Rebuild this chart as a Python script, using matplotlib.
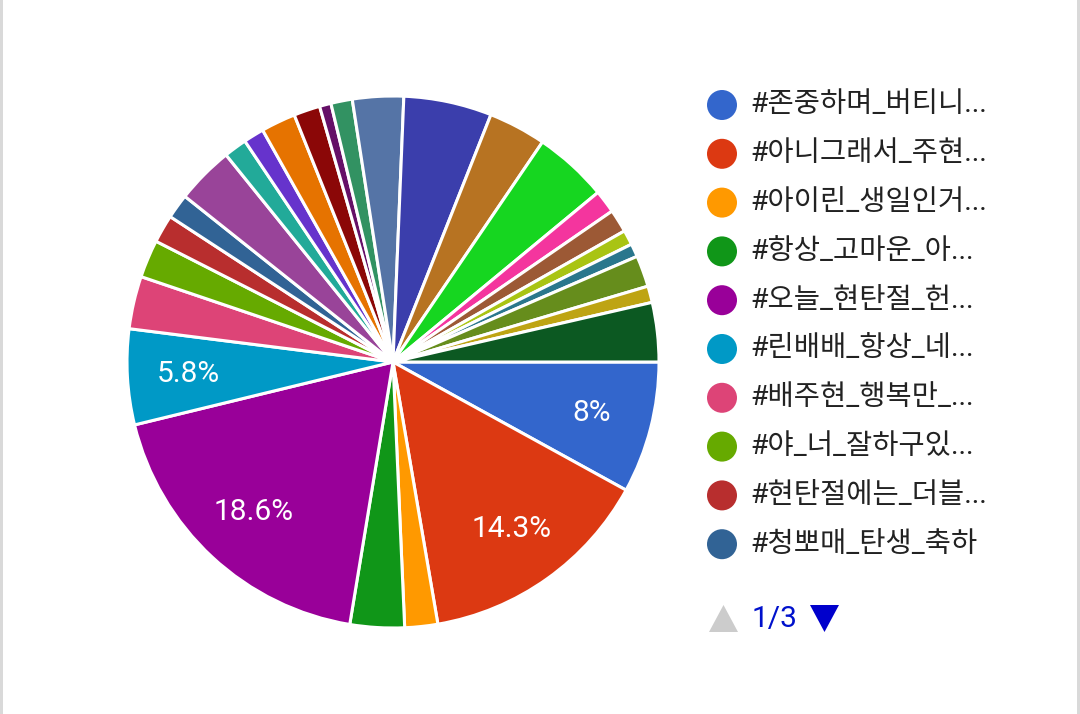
import math
import matplotlib
matplotlib.use("Agg")
import matplotlib.pyplot as plt
from matplotlib.patches import Circle, Polygon

plt.rcParams['font.family'] = ['Roboto', 'Noto Sans CJK KR', 'DejaVu Sans']

# slice shares in percent, clockwise from 3 o'clock
values = [8.0, 14.3, 2.0, 3.3, 18.6, 5.8, 3.2, 2.3, 1.7, 1.5,
          3.5, 1.4, 1.25, 2.1, 1.6, 0.7, 1.3, 3.1, 5.35, 3.5,
          4.5, 1.4, 1.4, 0.9, 0.8, 1.9, 1.0, 3.6]
colors = ['#3366cc', '#dc3912', '#ff9900', '#109618', '#990099', '#0099c6',
          '#dd4477', '#66aa00', '#b82e2e', '#316395', '#994499', '#22aa99',
          '#6633cc', '#e67300', '#8b0707', '#651067', '#329262', '#5574a6',
          '#3b3eac', '#b77322', '#16d620', '#f4359e', '#9c5935', '#a9c413',
          '#2a778d', '#668d1c', '#bea413', '#0c5922']
labeled = {0, 1, 4, 5}

# legend page 1 of 3 (as shown, truncated)
legend_labels = ['#존중하며_버티니...', '#아니그래서_주현...', '#아이린_생일인거...',
                 '#항상_고마운_아...', '#오늘_현탄절_헌...', '#린배배_항상_네...',
                 '#배주현_행복만_...', '#야_너_잘하구있...', '#현탄절에는_더블...',
                 '#청뽀매_탄생_축하']
page_text = '1/3'

W, H = 1080, 714
fig = plt.figure(figsize=(W / 100, H / 100), dpi=100)

# pie axes: center (393, 362), radius 266 px
cx, cy, r = 393, 362, 266
ax = fig.add_axes([(cx - r) / W, (H - cy - r) / H, 2 * r / W, 2 * r / H])
wedges, texts = ax.pie(values, colors=colors, startangle=0, counterclock=False,
                       wedgeprops=dict(edgecolor='white', linewidth=2.2))
ax.set_xlim(-1, 1)
ax.set_ylim(-1, 1)
ax.set_aspect('equal')

total = sum(values)
ang = 0.0
for i, v in enumerate(values):
    mid = ang - v / total * 180
    ang -= v / total * 360
    if i in labeled:
        pct = round(v / total * 100, 1)
        s = ('%g' % pct) + '%'
        rad = math.radians(mid)
        ax.text(0.77 * math.cos(rad), 0.77 * math.sin(rad), s, color='white',
                fontsize=21.5, ha='center', va='center')

# overlay in pixel coordinates for legend and frame
ov = fig.add_axes([0, 0, 1, 1], facecolor='none')
ov.set_xlim(0, W)
ov.set_ylim(H, 0)
ov.axis('off')

ov.add_patch(plt.Rectangle((0, 0), 3, H, color='#d9d9d9', lw=0))
ov.add_patch(plt.Rectangle((W - 3, 0), 3, H, color='#d9d9d9', lw=0))

for i, lab in enumerate(legend_labels):
    y = 105 + i * 48.8
    ov.add_patch(Circle((722, y), 15, color=colors[i], lw=0))
    ov.text(750, y, lab, fontsize=20.5, color='#222222', ha='left', va='center')

ov.add_patch(Polygon([[709, 632], [738, 632], [723.5, 605]], closed=True,
                     color='#cccccc', lw=0))
ov.text(752, 619, page_text, fontsize=21.5, color='#0011cc', ha='left', va='center')
ov.add_patch(Polygon([[810, 605], [839, 605], [824.5, 632]], closed=True,
                     color='#0000cc', lw=0))

fig.savefig('out.png', dpi=100, facecolor='white')
